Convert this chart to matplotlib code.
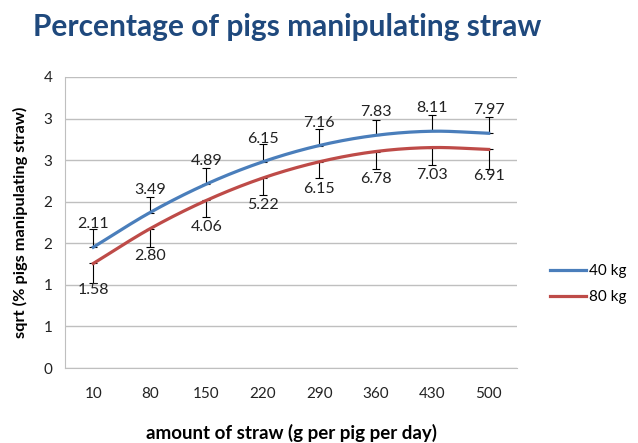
import numpy as np
import matplotlib
matplotlib.use("Agg")
import matplotlib.pyplot as plt

plt.rcParams['font.family'] = ['Lato', 'DejaVu Sans']

straw = ['10', '80', '150', '220', '290', '360', '430', '500']
# percentages shown as data labels; the lines plot their square roots
pct_40 = [2.11, 3.49, 4.89, 6.15, 7.16, 7.83, 8.11, 7.97]
pct_80 = [1.58, 2.80, 4.06, 5.22, 6.15, 6.78, 7.03, 6.91]
err_40 = [0.22, 0.19, 0.20, 0.21, 0.20, 0.19, 0.19, 0.20]
err_80 = [0.23, 0.22, 0.20, 0.20, 0.20, 0.21, 0.21, 0.24]
y_ticks = [0, 0.5, 1, 1.5, 2, 2.5, 3, 3.5]
y_tick_labels = ['0', '1', '1', '2', '2', '3', '3', '4']

BLUE = '#4A7EBB'
RED = '#BE4B48'


def smooth(x, y, n=20):
    # Catmull-Rom curve through the points, like Excel's smoothed line
    x = np.asarray(x, float)
    y = np.asarray(y, float)
    px = np.concatenate([[2 * x[0] - x[1]], x, [2 * x[-1] - x[-2]]])
    py = np.concatenate([[2 * y[0] - y[1]], y, [2 * y[-1] - y[-2]]])
    xs, ys = [], []
    t = np.linspace(0, 1, n, endpoint=False)
    for i in range(1, len(px) - 2):
        for p, out in ((px, xs), (py, ys)):
            p0, p1, p2, p3 = p[i - 1], p[i], p[i + 1], p[i + 2]
            out.extend(0.5 * (2 * p1 + (-p0 + p2) * t
                              + (2 * p0 - 5 * p1 + 4 * p2 - p3) * t ** 2
                              + (-p0 + 3 * p1 - 3 * p2 + p3) * t ** 3))
    xs.append(x[-1])
    ys.append(y[-1])
    return xs, ys


fig = plt.figure(figsize=(6.38, 4.43), dpi=100)
ax = fig.add_axes([65 / 638, 1 - 368 / 443, (517 - 65) / 638, (368 - 77) / 443])

x = np.arange(len(straw))
y40 = np.sqrt(pct_40)
y80 = np.sqrt(pct_80)

sx, sy = smooth(x, y40)
ax.plot(sx, sy, color=BLUE, lw=2.3, label='40 kg', zorder=3)
sx, sy = smooth(x, y80)
ax.plot(sx, sy, color=RED, lw=2.3, label='80 kg', zorder=3)

ax.errorbar(x, y40, yerr=[np.zeros(len(x)), err_40], fmt='none',
            ecolor='black', elinewidth=0.8, capsize=3, capthick=0.8, zorder=2)
ax.errorbar(x, y80, yerr=[err_80, np.zeros(len(x))], fmt='none',
            ecolor='black', elinewidth=0.8, capsize=3, capthick=0.8, zorder=2)

for xi, yi, p in zip(x, y40, pct_40):
    ax.annotate(f"{p:.2f}", (xi, yi), xytext=(0, 23), textcoords='offset pixels',
                ha='center', va='center', fontsize=11.5, color='#222222', zorder=4)
for xi, yi, p in zip(x, y80, pct_80):
    ax.annotate(f"{p:.2f}", (xi, yi), xytext=(0, -27), textcoords='offset pixels',
                ha='center', va='center', fontsize=11.5, color='#222222', zorder=4)

ax.set_xlim(-0.5, len(straw) - 0.5)
ax.set_ylim(0, 3.5)
ax.set_xticks(x)
ax.set_xticklabels(straw)
ax.set_yticks(y_ticks)
ax.set_yticklabels(y_tick_labels)
ax.tick_params(length=0, labelsize=11, colors='#222222', pad=9)
ax.tick_params(axis='x', pad=14)
ax.grid(axis='y', color='#BFBFBF', lw=1)
ax.set_axisbelow(True)
for s in ['top', 'right']:
    ax.spines[s].set_visible(False)
ax.spines['left'].set_color('#BFBFBF')
ax.spines['bottom'].set_color('#BFBFBF')

ax.set_ylabel('sqrt (% pigs manipulating straw)', fontsize=11.8, fontweight='bold', labelpad=11)
fig.text(292 / 638, 1 - 433 / 443, 'amount of straw (g per pig per day)',
         ha='center', va='center', fontsize=13.5, fontweight='bold')
fig.text(33 / 638, 1 - 27 / 443, 'Percentage of pigs manipulating straw',
         ha='left', va='center', fontsize=21.5, fontweight='bold', color='#1F497D')

fig.legend(loc='center left', bbox_to_anchor=(536 / 638, 1 - 284 / 443), frameon=False,
           fontsize=11, handlelength=2.4, labelspacing=0.8, handletextpad=0.2)

fig.savefig('out.png', dpi=100)
